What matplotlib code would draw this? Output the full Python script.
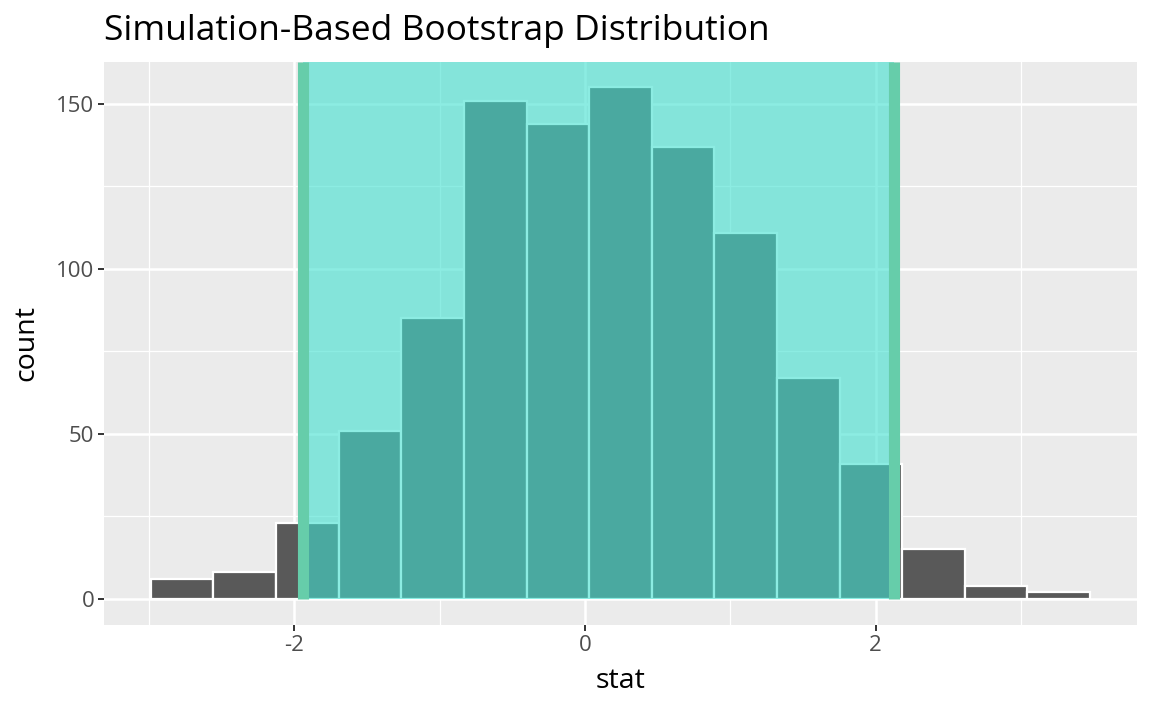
import numpy as np
import matplotlib.pyplot as plt

# histogram data (15 bins)
bin_start = -2.988
bin_width = 0.431
counts = [6, 8, 23, 51, 85, 151, 144, 155, 137, 111, 67, 41, 15, 4, 2]

# confidence interval endpoints
ci_lower = -1.938
ci_upper = 2.127

x_ticks = [-2, 0, 2]
y_ticks = [0, 50, 100, 150]

plt.rcParams['font.family'] = ['Open Sans', 'DejaVu Sans']

fig = plt.figure(figsize=(11.52, 7.11), dpi=100)
ax = fig.add_axes([0.0903, 0.121, 0.8967, 0.7918])
ax.set_facecolor('#EBEBEB')

y_top = 162.7
ax.set_xlim(-3.31, 3.80)
ax.set_ylim(-7.9, y_top)

edges = bin_start + bin_width * np.arange(len(counts) + 1)
ax.bar(edges[:-1], counts, width=bin_width, align='edge',
       color='#595959', edgecolor='white', linewidth=1.6, zorder=2)

# shaded CI starts at count 0 and runs to the top of the panel
ax.fill_between([ci_lower, ci_upper], 0, y_top, color='turquoise',
                alpha=0.6, lw=0, zorder=3)
ax.vlines([ci_lower, ci_upper], 0, y_top, color='mediumaquamarine',
          lw=8, zorder=4)

ax.set_xticks(x_ticks)
ax.set_xticklabels([str(t) for t in x_ticks])
ax.set_yticks(y_ticks)
ax.set_xticks([-3, -1, 1, 3], minor=True)
ax.set_yticks([25, 75, 125], minor=True)
ax.grid(which='major', color='white', lw=1.8, zorder=0)
ax.grid(which='minor', color='white', lw=0.9, zorder=0)
ax.set_axisbelow(True)
for s in ax.spines.values():
    s.set_visible(False)
ax.tick_params(which='major', length=4, width=1.4, color='#333333',
               labelcolor='#4D4D4D', labelsize=16, pad=3)
ax.tick_params(which='minor', length=0)

ax.set_xlabel('stat', fontsize=20.5, labelpad=8)
ax.set_ylabel('count', fontsize=20.5, labelpad=11)
ax.set_title('Simulation-Based Bootstrap Distribution', fontsize=25.5,
             loc='left', pad=16)

plt.savefig('out.png', dpi=100)
